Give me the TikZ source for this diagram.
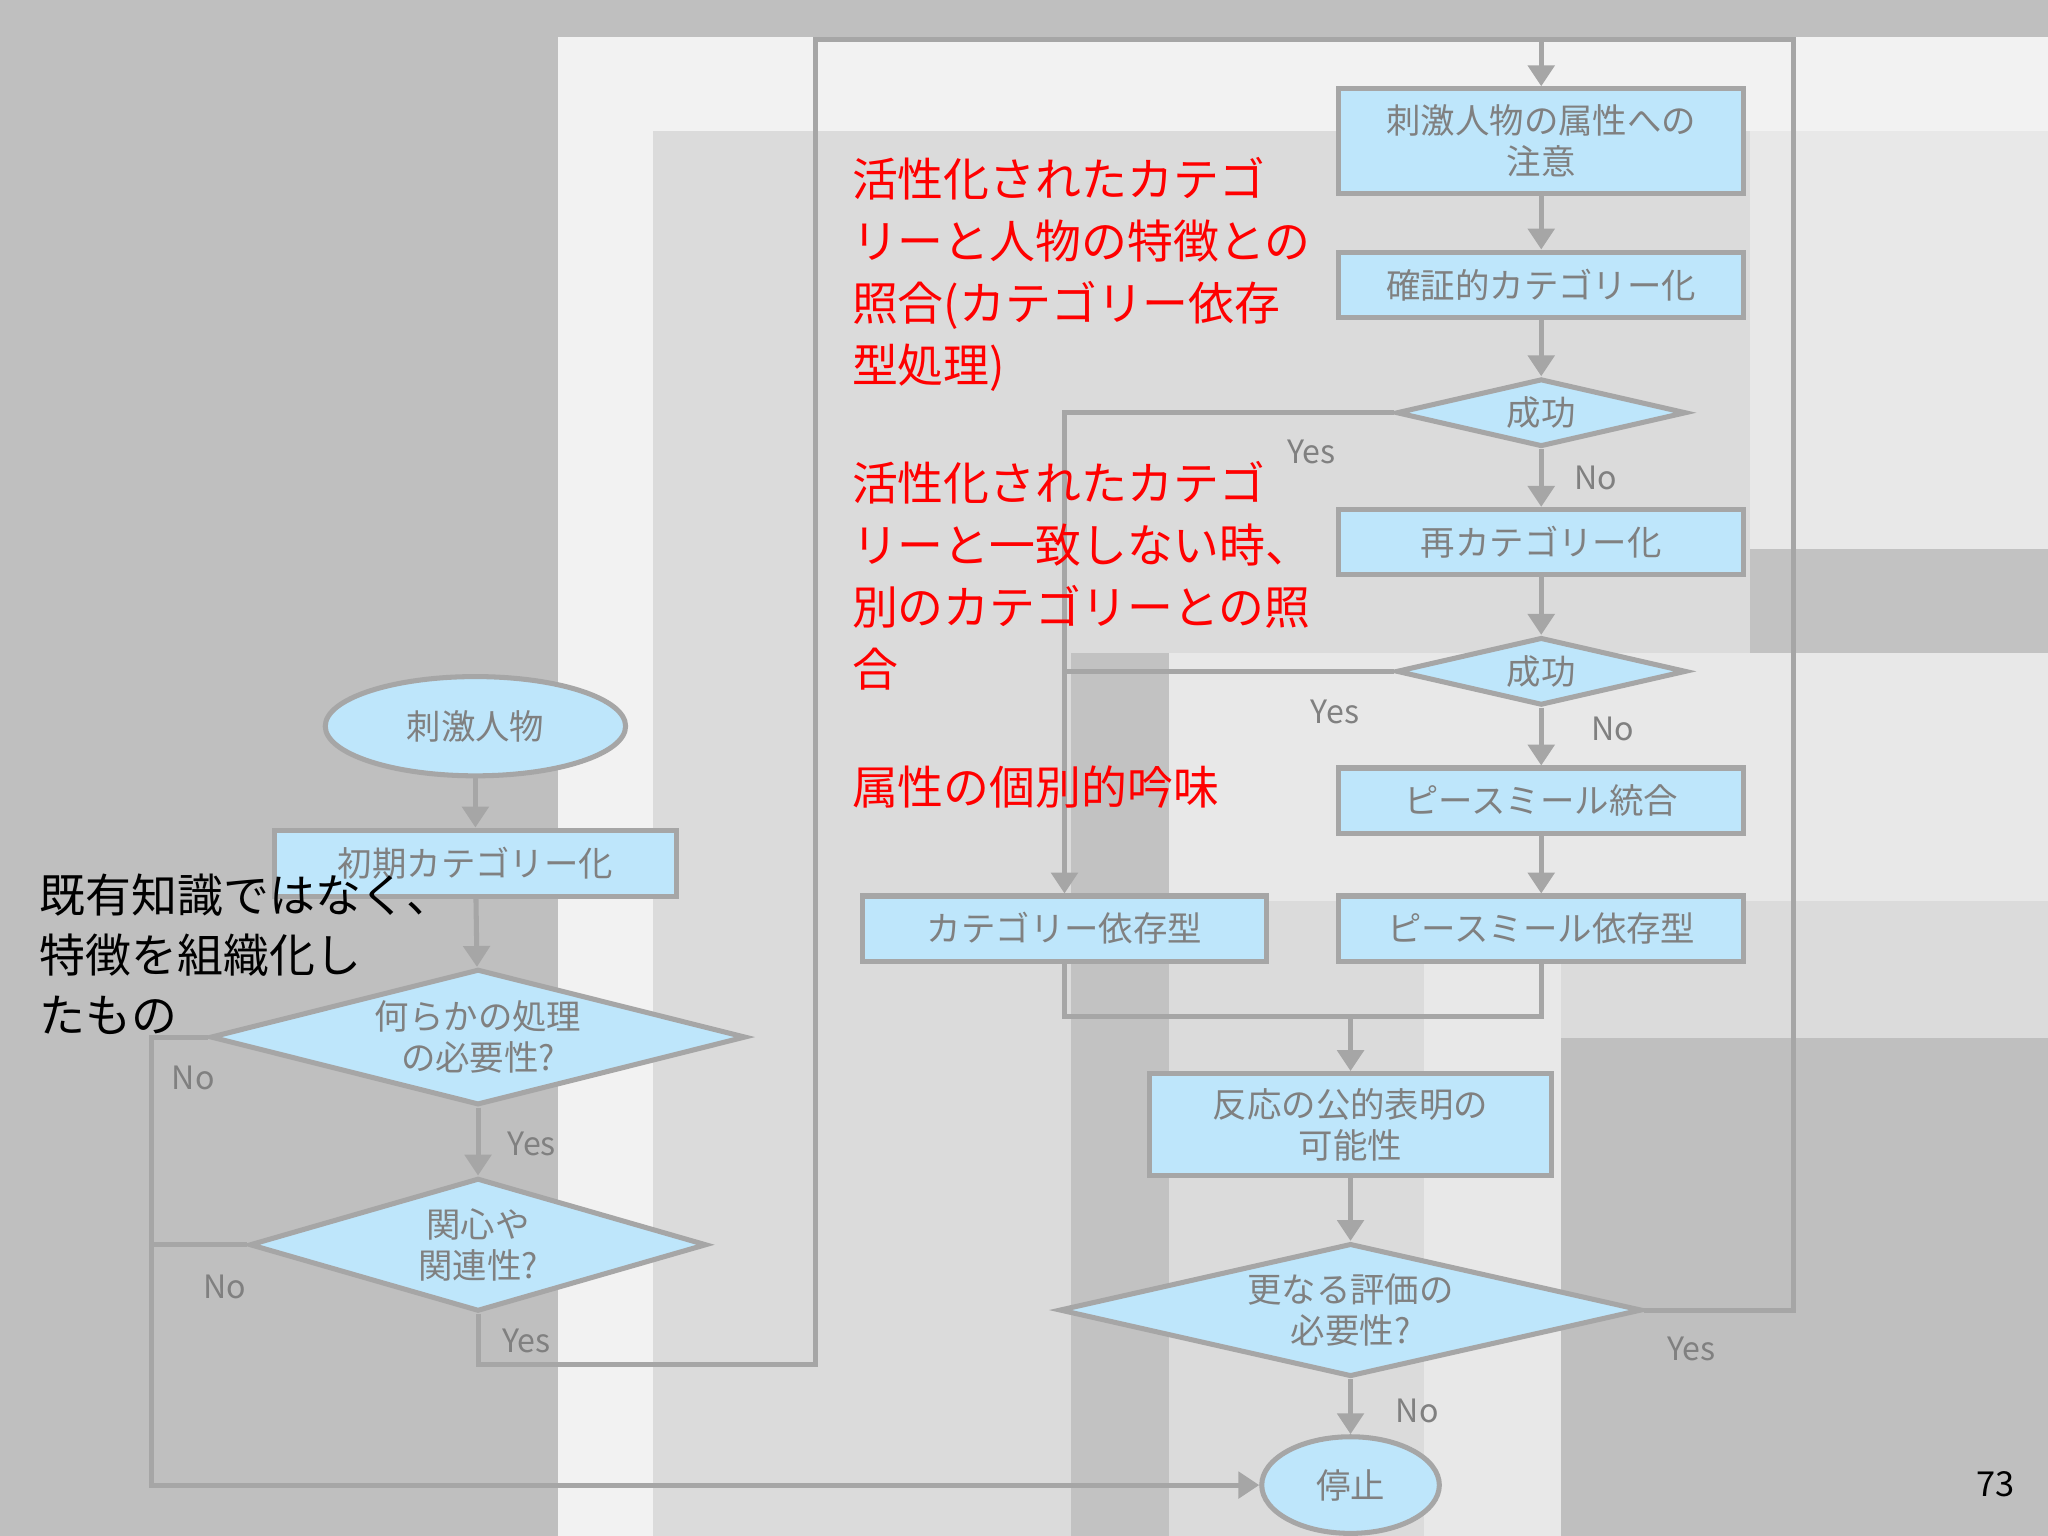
\documentclass[tikz,border=0pt]{standalone}
\usepackage{fontspec}
\setmainfont{Noto Sans CJK JP}
\usetikzlibrary{shapes.geometric,arrows.meta}
\definecolor{ln}{HTML}{A6A6A6}
\definecolor{bx}{HTML}{BEE6FB}
\definecolor{tx}{HTML}{808080}
\tikzset{
 box/.style={draw=ln,fill=bx,line width=2.2pt,minimum width=6.2cm,minimum height=1cm,inner sep=1pt,text=tx,font=\fontsize{15}{18}\selectfont,align=center},
 ell/.style={box,ellipse},
 dia/.style={box,diamond,inner sep=0pt},
 cn/.style={draw=ln,line width=2.2pt},
 arr/.style={cn,-{Triangle[length=0.32cm,width=0.4cm]}},
 lab/.style={text=tx,font=\fontsize{14}{16}\selectfont},
 red/.style={text=red,font=\fontsize{20}{27}\selectfont,align=left,anchor=north west,inner sep=0},
}
\begin{document}
\begin{tikzpicture}[x=0.02cm,y=-0.02cm]
\useasboundingbox (0,0) rectangle (1568,1176);
% background
\fill[black!25] (0,0) rectangle (1568,1176);
\fill[black!5] (427,28) rectangle (1568,1176);
\fill[black!14] (500,100) rectangle (1568,1176);
\fill[black!9] (1340,100) rectangle (1568,420);
\fill[black!24] (1340,420) rectangle (1568,500);
\fill[black!24] (820,500) rectangle (895,1176);
\fill[black!9] (895,500) rectangle (1568,690);
\fill[black!9] (1090,690) rectangle (1195,1176);
\fill[black!25] (1195,795) rectangle (1568,1176);
% left flow
\node[ell,minimum width=4.6cm,minimum height=1.52cm] (s) at (364,556) {刺激人物};
\node[box,minimum width=6.16cm,minimum height=1.02cm] (init) at (364,661) {初期カテゴリー化};
\node[dia,aspect=3.94,minimum width=8.2cm,minimum height=2.08cm] (d1) at (366,794) {何らかの処理\\の必要性?};
\node[dia,aspect=3.43,minimum width=7cm,minimum height=2.04cm] (d2) at (366,953) {関心や\\関連性?};
% right flow
\node[box,minimum height=1.6cm] (att) at (1180,108) {刺激人物の属性への\\注意};
\node[box] (conf) at (1180,218) {確証的カテゴリー化};
\node[dia,aspect=4.27,minimum width=4.44cm,minimum height=1.04cm] (ok1) at (1180,316) {成功};
\node[box] (re) at (1180,415) {再カテゴリー化};
\node[dia,aspect=4.27,minimum width=4.44cm,minimum height=1.04cm] (ok2) at (1180,514) {成功};
\node[box] (pi) at (1180,613) {ピースミール統合};
\node[box] (pd) at (1180,711) {ピースミール依存型};
\node[box] (cd) at (815,711) {カテゴリー依存型};
\node[box,minimum width=6.16cm,minimum height=1.56cm] (pub) at (1034,861) {反応の公的表明の\\可能性};
\node[dia,aspect=4.37,minimum width=8.92cm,minimum height=2.04cm] (more) at (1034,1003) {更なる評価の\\必要性?};
\node[ell,minimum width=2.72cm,minimum height=1.48cm] (stop) at (1034,1137) {停止};
% connectors
\draw[arr] (s) -- (init);
\draw[arr] (init) -- (d1);
\draw[arr] (d1) -- (d2);
\coordinate (lx) at (116,794);
\draw[arr] (d1.west) -- (lx) |- (stop.west);
\draw[cn] (d2.west) -- (116,953);
\coordinate (b1) at (624,1045);
\coordinate (t1) at (624,30);
\coordinate (t2) at (1180,30);
\draw[arr] (d2.south) |- (b1) -- (t1) -- (t2) -- (att.north);
\draw[arr] (att) -- (conf);
\draw[arr] (conf) -- (ok1);
\draw[arr] (ok1) -- (re);
\draw[arr] (re) -- (ok2);
\draw[arr] (ok2) -- (pi);
\draw[arr] (pi) -- (pd);
\draw[arr] (ok1.west) -| (cd.north);
\draw[cn] (ok2.west) -- (815,514);
\coordinate (j) at (1034,778);
\draw[cn] (cd.south) |- (pd.south |- j) -- (pd.south);
\draw[arr] (j) -- (pub.north);
\draw[arr] (pub) -- (more);
\draw[arr] (more) -- (stop);
\draw[cn] (more.east) -| (1373,30) -- (t2);
% labels
\node[lab] at (407,876) {Yes};
\node[lab] at (148,825) {No};
\node[lab] at (172,985) {No};
\node[lab] at (403,1027) {Yes};
\node[lab] at (1004,346) {Yes};
\node[lab] at (1222,366) {No};
\node[lab] at (1022,545) {Yes};
\node[lab] at (1235,558) {No};
\node[lab] at (1295,1033) {Yes};
\node[lab] at (1085,1080) {No};
% texts
\node[red] (r1) at (652,120) {活性化されたカテゴ\\リーと人物の特徴との\\照合(カテゴリー依存\\型処理)};
\node[red] (r2) at (652,353) {活性化されたカテゴ\\リーと一致しない時、\\別のカテゴリーとの照\\合};
\node[red] (r3) at (652,586) {属性の個別的吟味};
\node[red,text=black,font=\fontsize{20}{26}\selectfont] (k) at (30,669) {既有知識ではなく、\\特徴を組織化し\\たもの};
\node[font=\fontsize{15}{18}\selectfont] (pg) at (1528,1136) {73};
\end{tikzpicture}
\end{document}
